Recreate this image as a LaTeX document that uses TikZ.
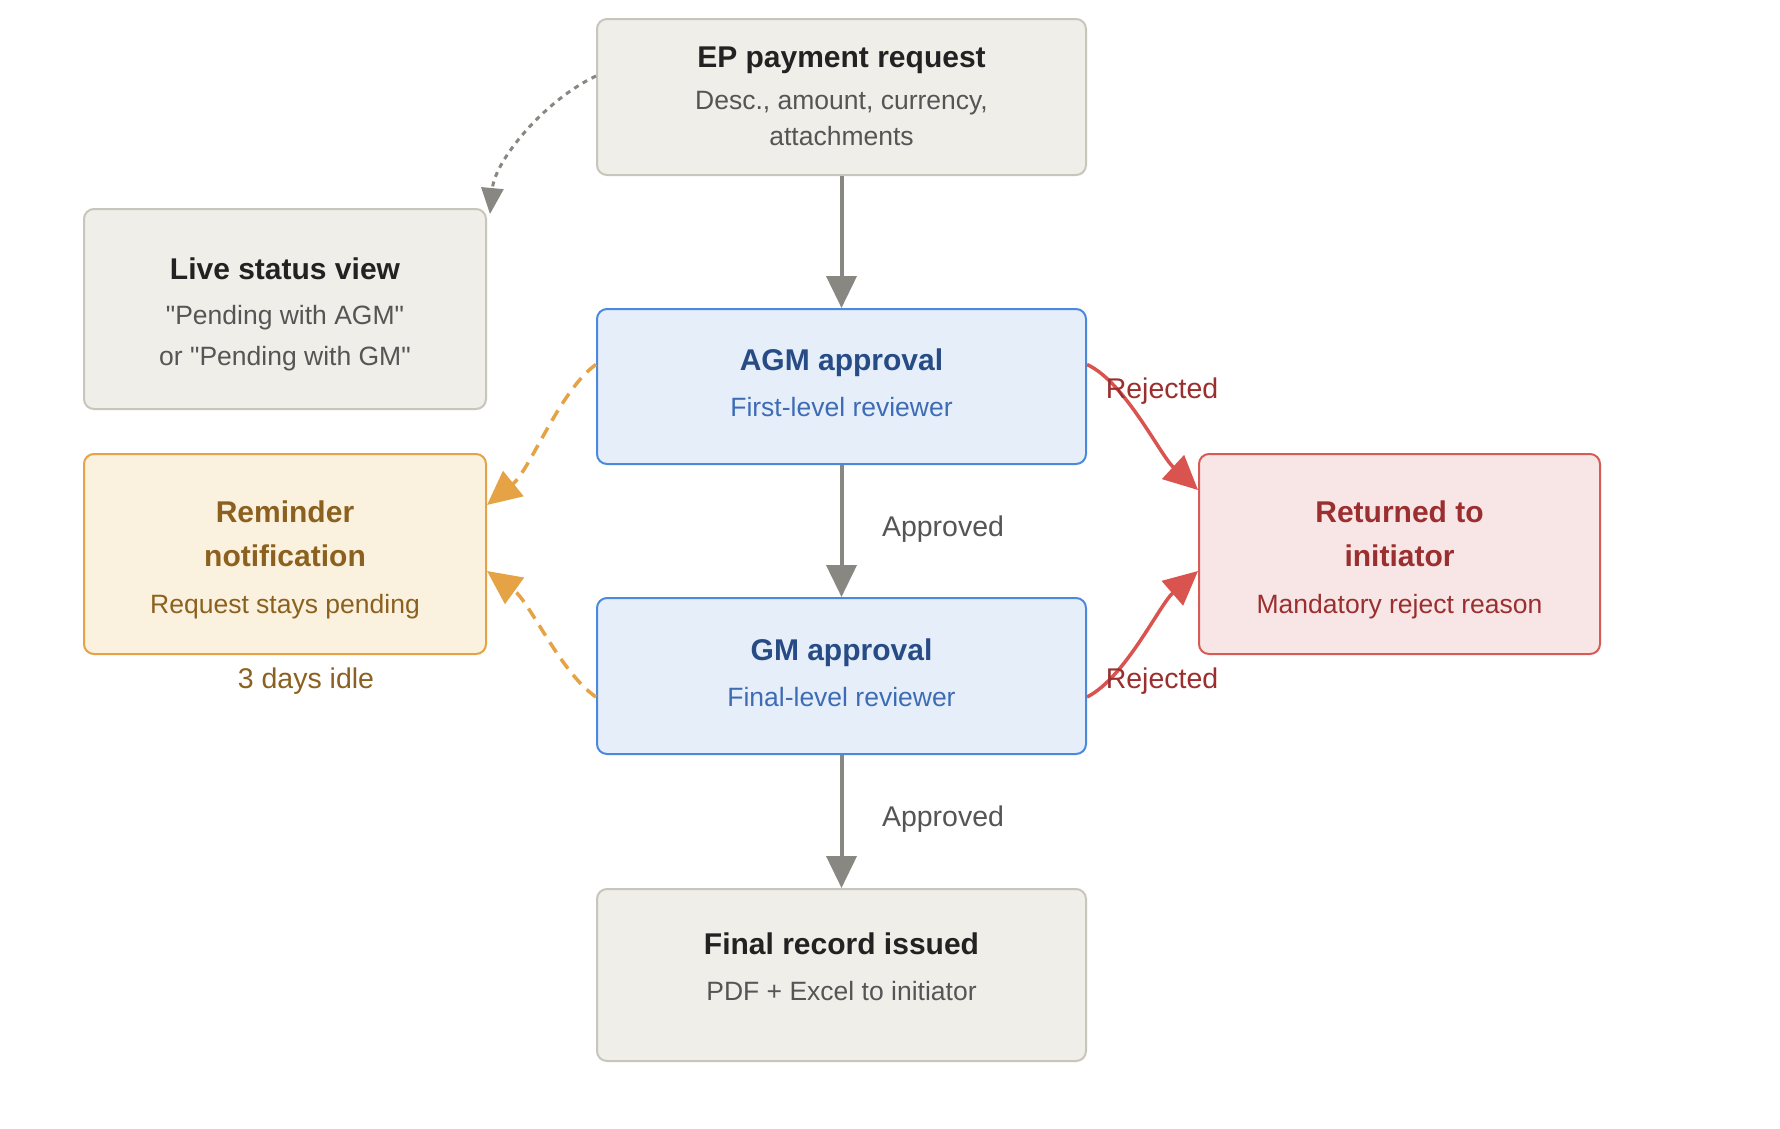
\documentclass[tikz,border=0pt]{standalone}
\usepackage{fontspec}
\setmainfont{Liberation Sans}[Ligatures=TeXOff]
\usetikzlibrary{arrows.meta}
\definecolor{gfill}{HTML}{EFEEE9}
\definecolor{gdraw}{HTML}{C8C5BB}
\definecolor{bfill}{HTML}{E6EEFA}
\definecolor{bdraw}{HTML}{4B89DC}
\definecolor{ofill}{HTML}{FBF1DF}
\definecolor{odraw}{HTML}{E5A345}
\definecolor{rfill}{HTML}{F8E6E6}
\definecolor{rdraw}{HTML}{D65B57}
\definecolor{gtitle}{HTML}{222222}
\definecolor{gsub}{HTML}{555555}
\definecolor{btitle}{HTML}{264B85}
\definecolor{bsub}{HTML}{3D6CB5}
\definecolor{otext}{HTML}{8C611F}
\definecolor{rtext}{HTML}{9B2F2F}
\definecolor{garrow}{HTML}{888782}
\definecolor{rarrow}{HTML}{D9534F}
\tikzset{
  box/.style={rectangle, rounded corners=10pt, line width=2pt, inner sep=0pt},
  graybox/.style={box, fill=gfill, draw=gdraw},
  bluebox/.style={box, fill=bfill, draw=bdraw},
  orangebox/.style={box, fill=ofill, draw=odraw},
  redbox/.style={box, fill=rfill, draw=rdraw},
  txt/.style={inner sep=0pt, text height=0.72em, text depth=0pt, yshift=-7pt},
  ttl/.style={txt, font=\fontsize{30}{36}\selectfont\bfseries},
  sub/.style={txt, font=\fontsize{26.5}{32}\selectfont},
  elabel/.style={txt, font=\fontsize{28.5}{34}\selectfont},
  flow/.style={draw=garrow, line width=4pt, -{Triangle[length=32pt,width=30pt]}},
  rej/.style={draw=rarrow, line width=3.5pt, -{Triangle[length=34pt,width=32pt]}},
  remind/.style={draw=odraw, line width=3.5pt, dash pattern=on 12pt off 8pt, -{Triangle[length=34pt,width=32pt]}},
  live/.style={draw=garrow, line width=3pt, dash pattern=on 5pt off 5pt, -{Triangle[length=26pt,width=22pt]}}
}
\begin{document}
\begin{tikzpicture}[x=1pt,y=-1pt]
\useasboundingbox[fill=white] (0,0) rectangle (1780,1128);
% boxes
\node (ep) [graybox, minimum width=489pt, minimum height=156pt] at (841.5,97) {};
\node (live) [graybox, minimum width=402pt, minimum height=200pt] at (285,309) {};
\node (agm) [bluebox, minimum width=489pt, minimum height=155pt] at (841.5,386.5) {};
\node (rem) [orangebox, minimum width=402pt, minimum height=200pt] at (285,554) {};
\node (ret) [redbox, minimum width=401pt, minimum height=200pt] at (1399.5,554) {};
\node (gm) [bluebox, minimum width=489pt, minimum height=156pt] at (841.5,676) {};
\node (fin) [graybox, minimum width=489pt, minimum height=172pt] at (841.5,975) {};
% texts
\node (ep1) [ttl, text=gtitle] at (841.5,57) {EP payment request};
\node (ep2) [sub, text=gsub] at (841.5,99) {Desc., amount, currency,};
\node (ep3) [sub, text=gsub] at (841.5,135) {attachments};
\node (live1) [ttl, text=gtitle] at (285,269) {Live status view};
\node (live2) [sub, text=gsub] at (285,314) {"Pending with AGM"};
\node (live3) [sub, text=gsub] at (285,355) {or "Pending with GM"};
\node (agm1) [ttl, text=btitle] at (841.5,360) {AGM approval};
\node (agm2) [sub, text=bsub] at (841.5,406) {First-level reviewer};
\node (rem1) [ttl, text=otext] at (285,512) {Reminder};
\node (rem2) [ttl, text=otext] at (285,556) {notification};
\node (rem3) [sub, text=otext] at (285,603) {Request stays pending};
\node (ret1) [ttl, text=rtext] at (1399.5,512) {Returned to};
\node (ret2) [ttl, text=rtext] at (1399.5,556) {initiator};
\node (ret3) [sub, text=rtext] at (1399.5,603) {Mandatory reject reason};
\node (gm1) [ttl, text=btitle] at (841.5,650) {GM approval};
\node (gm2) [sub, text=bsub] at (841.5,696) {Final-level reviewer};
\node (fin1) [ttl, text=gtitle] at (841.5,944) {Final record issued};
\node (fin2) [sub, text=gsub] at (841.5,990) {PDF + Excel to initiator};
% connectors
\draw[flow] (ep) -- (agm);
\draw[flow] (agm) -- (gm);
\draw[flow] (gm) -- (fin);
\node (ap1) [elabel, text=gsub] at (943,526) {Approved};
\node (ap2) [elabel, text=gsub] at (943,816) {Approved};
\draw[live] ([yshift=21pt]ep.west) .. controls (545,100) and (495,160) .. ([xshift=3pt,yshift=-6pt]live.north east);
\draw[remind] ([yshift=22pt]agm.west) .. controls (560,390) and (530,470) .. ([yshift=49pt]rem.east);
\draw[remind] ([yshift=-21pt]gm.west) .. controls (560,672) and (530,602) .. ([yshift=-17pt]rem.east);
\node (idle) [elabel, text=otext] at (306,678) {3 days idle};
\draw[rej] ([yshift=22pt]agm.east) .. controls (1125,382) and (1160,455) .. ([yshift=64pt]ret.west);
\draw[rej] ([yshift=-21pt]gm.east) .. controls (1125,678) and (1160,604) .. ([yshift=-17pt]ret.west);
\node (rj1) [elabel, text=rtext] at (1162,388) {Rejected};
\node (rj2) [elabel, text=rtext] at (1162,678) {Rejected};
\end{tikzpicture}
\end{document}
